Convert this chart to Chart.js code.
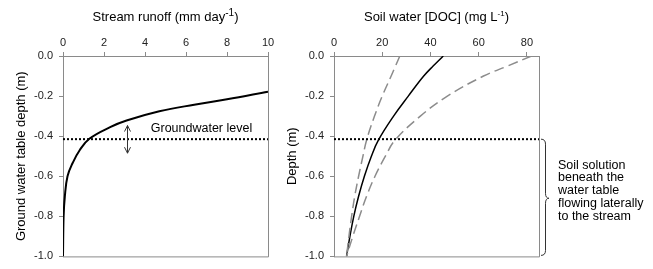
<!DOCTYPE html>
<html>
<head>
<meta charset="utf-8">
<script src="https://cdn.jsdelivr.net/npm/chart.js@4.4.1/dist/chart.umd.min.js"></script>
<style>
  html, body { margin: 0; padding: 0; background: #fff; }
  #wrap { position: relative; width: 653px; height: 269px; }
  canvas { position: absolute; left: 0; top: 0; }
</style>
</head>
<body>
<div id="wrap">
  <canvas id="runoffChart" width="653" height="269"></canvas>
  <canvas id="docChart" width="653" height="269"></canvas>
</div>
<script>
// left panel: stream runoff against water table depth
const runoffValues = [0, 0.03, 0.09, 0.22, 0.47, 0.82, 1.3, 2.3, 3.1, 4.7, 6.4, 8, 10];
const runoffDepth = [-1.0, -0.8, -0.7, -0.6, -0.534, -0.469, -0.412, -0.355, -0.322, -0.276, -0.243, -0.216, -0.178];
const runoffTicks = [0, 2, 4, 6, 8, 10];

// right panel: soil water DOC profile
const docDepth = [0, -0.05, -0.1, -0.2, -0.3, -0.42, -0.5, -0.6, -0.7, -0.8, -0.9, -1.0];
const docMean = [45.3, 41.1, 37.2, 30.8, 24.7, 18.4, 15.5, 12.6, 10.2, 8.2, 6.6, 5.2];
const docLow = [27.3, 25.5, 23.7, 20, 16.8, 13.5, 12, 10.2, 8.6, 7.3, 6.2, 5.2];
const docHigh = [81.9, 72, 62, 47, 35.8, 25.3, 21.3, 17, 13.5, 10.6, 7.8, 5.2];
const docTicks = [0, 20, 40, 60, 80];

const depthTicks = [0, -0.2, -0.4, -0.6, -0.8, -1.0];
const groundwaterLevel = -0.415;
const arrowTop = -0.347;
const arrowBottom = -0.485;
const arrowX = 3.1;

const braceLines = ["Soil solution", "beneath the", "water table", "flowing laterally", "to the stream"];

const FONT = "'Liberation Sans', Arial, sans-serif";
const AXIS_GREY = '#8a8a8a';

function toPoints(xs, ys) {
    return xs.map((x, i) => ({x: x, y: ys[i]}));
}

function drawSupText(ctx, cx, y, main, sup, tail, size, supSize) {
    ctx.font = size + 'px ' + FONT;
    const w1 = ctx.measureText(main).width;
    const w3 = ctx.measureText(tail).width;
    ctx.font = supSize + 'px ' + FONT;
    const w2 = ctx.measureText(sup).width;
    let x = cx - (w1 + w2 + w3) / 2;
    ctx.textAlign = 'left';
    ctx.textBaseline = 'alphabetic';
    ctx.font = size + 'px ' + FONT;
    ctx.fillText(main, x, y);
    x += w1;
    ctx.font = supSize + 'px ' + FONT;
    ctx.fillText(sup, x, y - size * 0.42);
    x += w2;
    ctx.font = size + 'px ' + FONT;
    ctx.fillText(tail, x, y);
}

// frame, titles and extra notes for each panel
function panelPlugin(cfg) {
    return {
        id: 'panel_' + cfg.id,
        afterDraw(chart) {
            const ctx = chart.ctx;
            const a = chart.chartArea;
            ctx.save();
            ctx.strokeStyle = AXIS_GREY;
            ctx.lineWidth = 1;
            ctx.beginPath();
            ctx.moveTo(a.right + 0.5, a.top);
            ctx.lineTo(a.right + 0.5, a.bottom + 0.5);
            ctx.lineTo(a.left, a.bottom + 0.5);
            ctx.stroke();

            ctx.fillStyle = '#000';
            drawSupText(ctx, (a.left + a.right) / 2, 21, cfg.title[0], cfg.title[1], cfg.title[2], 13, cfg.supSize);

            ctx.save();
            ctx.translate(cfg.yTitleX, (a.top + a.bottom) / 2);
            ctx.rotate(-Math.PI / 2);
            ctx.font = '13px ' + FONT;
            ctx.textAlign = 'center';
            ctx.textBaseline = 'middle';
            ctx.fillText(cfg.yTitle, 0, 0);
            ctx.restore();

            if (cfg.extra) cfg.extra(chart, ctx);
            ctx.restore();
        }
    };
}

function drawArrowNote(chart, ctx) {
    const xs = chart.scales.x, ys = chart.scales.y;
    const x = Math.round(xs.getPixelForValue(arrowX)) + 0.5;
    const y1 = ys.getPixelForValue(arrowTop);
    const y2 = ys.getPixelForValue(arrowBottom);
    ctx.strokeStyle = '#333';
    ctx.lineWidth = 1;
    ctx.beginPath();
    ctx.moveTo(x, y1);
    ctx.lineTo(x, y2);
    ctx.moveTo(x - 3, y1 + 6);
    ctx.lineTo(x, y1);
    ctx.lineTo(x + 3, y1 + 6);
    ctx.moveTo(x - 3, y2 - 6);
    ctx.lineTo(x, y2);
    ctx.lineTo(x + 3, y2 - 6);
    ctx.stroke();

    ctx.fillStyle = '#000';
    ctx.font = '12.5px ' + FONT;
    ctx.textAlign = 'left';
    ctx.textBaseline = 'middle';
    ctx.fillText('Groundwater level', xs.getPixelForValue(4.28), ys.getPixelForValue(-0.363));
}

function drawBrace(chart, ctx) {
    const a = chart.chartArea;
    const ys = chart.scales.y;
    const top = ys.getPixelForValue(groundwaterLevel);
    const bottom = ys.getPixelForValue(-1.0) - 1;
    const mid = ys.getPixelForValue(-0.71);
    const x0 = a.right + 2, x1 = a.right + 6.5, x2 = a.right + 10;
    ctx.strokeStyle = '#333';
    ctx.lineWidth = 1;
    ctx.beginPath();
    ctx.moveTo(x0, top);
    ctx.quadraticCurveTo(x1, top, x1, top + 5);
    ctx.lineTo(x1, mid - 5);
    ctx.quadraticCurveTo(x1, mid, x2, mid);
    ctx.quadraticCurveTo(x1, mid, x1, mid + 5);
    ctx.lineTo(x1, bottom - 5);
    ctx.quadraticCurveTo(x1, bottom, x0, bottom);
    ctx.stroke();

    ctx.fillStyle = '#000';
    ctx.font = '12.5px ' + FONT;
    ctx.textAlign = 'left';
    ctx.textBaseline = 'middle';
    braceLines.forEach((line, i) => {
        ctx.fillText(line, a.right + 19, mid - 33 + i * 12.7);
    });
}

function scaleOptions(cfg) {
    return {
        x: {
            type: 'linear',
            position: 'top',
            min: cfg.xMin,
            max: cfg.xMax,
            afterFit(scale) { scale.height = 56; },
            afterBuildTicks(scale) { scale.ticks = cfg.xTicks.map(v => ({value: v})); },
            ticks: {
                font: {family: FONT, size: 11},
                color: '#222',
                padding: 2,
                maxRotation: 0
            },
            grid: {drawOnChartArea: false, color: AXIS_GREY, tickLength: 4},
            border: {color: AXIS_GREY}
        },
        y: {
            type: 'linear',
            position: 'left',
            min: -1.0,
            max: 0,
            afterFit(scale) { scale.width = cfg.yWidth; },
            afterBuildTicks(scale) { scale.ticks = depthTicks.map(v => ({value: v})); },
            ticks: {
                font: {family: FONT, size: 11},
                color: '#222',
                padding: 6,
                callback: v => v.toFixed(1)
            },
            grid: {drawOnChartArea: false, color: AXIS_GREY, tickLength: 4},
            border: {color: AXIS_GREY}
        }
    };
}

function levelDataset(xMax) {
    return {
        data: [{x: 0, y: groundwaterLevel}, {x: xMax, y: groundwaterLevel}],
        borderColor: '#000',
        borderWidth: 2,
        borderDash: [2, 2],
        pointRadius: 0,
        tension: 0
    };
}

function renderRunoff() {
    new Chart(document.getElementById('runoffChart'), {
        type: 'line',
        data: {
            datasets: [
                levelDataset(10),
                {
                    data: toPoints(runoffValues, runoffDepth),
                    borderColor: '#000',
                    borderWidth: 2,
                    pointRadius: 0,
                    tension: 0.4
                }
            ]
        },
        options: {
            responsive: false,
            animation: false,
            layout: {padding: {left: 0, right: 385, top: 0, bottom: 9}},
            plugins: {legend: {display: false}, tooltip: {enabled: false}},
            scales: scaleOptions({xMin: 0, xMax: 10, xTicks: runoffTicks, yWidth: 63})
        },
        plugins: [panelPlugin({
            id: 'runoff',
            title: ['Stream runoff (mm day', '-1', ')'],
            supSize: 10,
            yTitle: 'Ground water table depth (m)',
            yTitleX: 21,
            extra: drawArrowNote
        })]
    });
}

function renderDoc() {
    const dashed = {
        borderColor: '#8c8c8c',
        borderWidth: 1.5,
        borderDash: [10, 5],
        pointRadius: 0,
        tension: 0.4
    };
    new Chart(document.getElementById('docChart'), {
        type: 'line',
        data: {
            datasets: [
                levelDataset(85),
                Object.assign({data: toPoints(docLow, docDepth)}, dashed),
                Object.assign({data: toPoints(docHigh, docDepth)}, dashed),
                {
                    data: toPoints(docMean, docDepth),
                    borderColor: '#000',
                    borderWidth: 1.5,
                    pointRadius: 0,
                    tension: 0.4
                }
            ]
        },
        options: {
            responsive: false,
            animation: false,
            layout: {padding: {left: 294, right: 114, top: 0, bottom: 9}},
            plugins: {legend: {display: false}, tooltip: {enabled: false}},
            scales: scaleOptions({xMin: 0, xMax: 85, xTicks: docTicks, yWidth: 40})
        },
        plugins: [panelPlugin({
            id: 'doc',
            title: ['Soil water [DOC] (mg L', '-1', ')'],
            supSize: 8,
            yTitle: 'Depth (m)',
            yTitleX: 292,
            extra: drawBrace
        })]
    });
}

renderRunoff();
renderDoc();
</script>
</body>
</html>
